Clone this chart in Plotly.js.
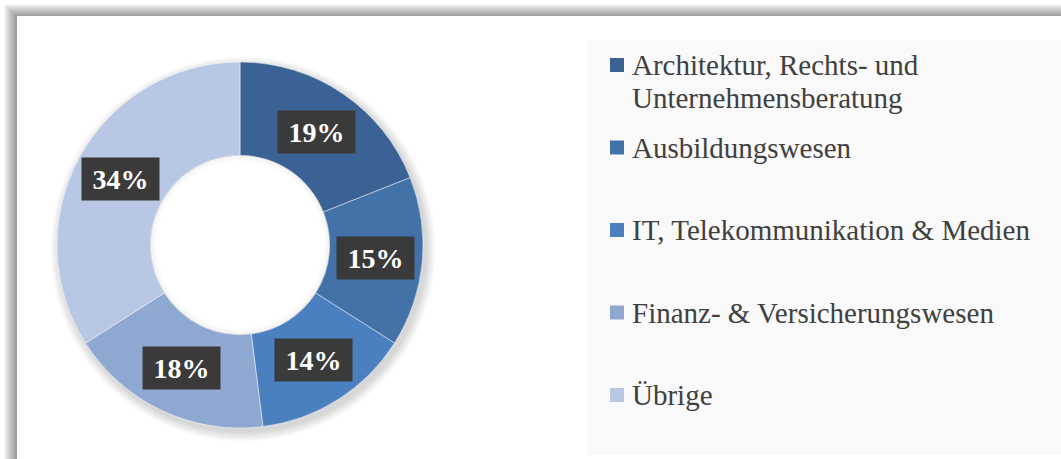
<!DOCTYPE html>
<html>
<head>
<meta charset="utf-8">
<script src="https://cdn.plot.ly/plotly-3.0.1.min.js"></script>
</head>
<body style="margin:0">
<div id="chart"></div>
<script>
// ---- data ----
const categories = [
  "Architektur, Rechts- und\nUnternehmensberatung",
  "Ausbildungswesen",
  "IT, Telekommunikation & Medien",
  "Finanz- & Versicherungswesen",
  "Übrige"
];
const shares = [19, 15, 14, 18, 34];
const sliceColors = ["#3b6295", "#4372a9", "#4b80c0", "#8fa8d2", "#b7c7e4"];

// ---- geometry (pixels) ----
const W = 1061, H = 459;
const cx = 240, cy = 245, rOuter = 183, hole = 0.49;
const px = x => x / W;
const py = y => 1 - y / H;
const FONT = 'Liberation Serif';

const shapes = [];
// frame shadow (left / top gradient)
for (let i = 4; i <= 16; i++) {
  shapes.push({type: 'rect', xref: 'paper', yref: 'paper', layer: 'below',
    x0: px(i), x1: px(W + 20), y0: py(i), y1: py(H + 20),
    line: {width: 0}, fillcolor: 'rgba(0,0,0,0.035)'});
}
shapes.push({type: 'rect', xref: 'paper', yref: 'paper', layer: 'below',
  x0: px(17), x1: px(W + 20), y0: py(16), y1: py(H + 20),
  line: {width: 0}, fillcolor: '#ffffff'});
// legend panel
shapes.push({type: 'rect', xref: 'paper', yref: 'paper', layer: 'below',
  x0: px(587), x1: px(W + 20), y0: py(40), y1: py(455),
  line: {width: 0}, fillcolor: '#f9f9f9'});
// soft shadow behind the donut
for (let k = 0; k < 8; k++) {
  const r = rOuter + 1 + k * 1.2;
  shapes.push({type: 'circle', xref: 'paper', yref: 'paper', layer: 'below',
    x0: px(cx + 3 - r), x1: px(cx + 3 + r), y0: py(cy + 4 + r), y1: py(cy + 4 - r),
    line: {width: 0}, fillcolor: 'rgba(0,0,0,0.018)'});
}
// keep the hole white
const rHole = rOuter * hole - 0.5;
shapes.push({type: 'circle', xref: 'paper', yref: 'paper', layer: 'above',
  x0: px(cx - rHole), x1: px(cx + rHole), y0: py(cy + rHole), y1: py(cy - rHole),
  line: {width: 0}, fillcolor: '#ffffff'});
// faint inner shadow at the hole's rim
for (let k = 0; k < 4; k++) {
  const r = rHole - k * 1.5;
  shapes.push({type: 'circle', xref: 'paper', yref: 'paper', layer: 'above',
    x0: px(cx - r), x1: px(cx + r), y0: py(cy + r), y1: py(cy - r),
    line: {width: 1.5, color: 'rgba(0,0,0,' + (0.05 - k * 0.012) + ')'}, fillcolor: 'rgba(0,0,0,0)'});
}

const annotations = [];
// data labels in dark boxes
const total = shares.reduce((a, b) => a + b, 0);
let cum = 0;
const rLabel = rOuter * 0.745;
shares.forEach((v, i) => {
  const mid = (cum + v / 2) / total * 2 * Math.PI;
  cum += v;
  const lx = cx + rLabel * Math.sin(mid);
  const ly = cy - rLabel * Math.cos(mid);
  annotations.push({
    xref: 'paper', yref: 'paper', x: px(lx), y: py(ly),
    xanchor: 'center', yanchor: 'middle', showarrow: false,
    text: '<b>' + Math.round(v / total * 100) + '%</b>',
    font: {family: FONT, size: 28, color: '#ffffff'},
    bgcolor: '#3a3a3a', width: 75, height: 40, borderpad: 1
  });
});

// legend (custom, in the panel)
const legTop = 65, legStep = 82.5, lineH = 33;
categories.forEach((lab, i) => {
  const yc = legTop + i * legStep;
  shapes.push({type: 'rect', xref: 'paper', yref: 'paper', layer: 'above',
    x0: px(610), x1: px(624), y0: py(yc - 7), y1: py(yc + 7),
    line: {width: 0}, fillcolor: sliceColors[i]});
  lab.split('\n').forEach((line, j) => {
    annotations.push({
      xref: 'paper', yref: 'paper', x: px(630), y: py(yc + j * lineH),
      xanchor: 'left', yanchor: 'middle', showarrow: false, text: line,
      font: {family: FONT, size: 29, color: '#404040'}
    });
  });
});

const trace = {
  type: 'pie',
  labels: categories.map(c => c.replace('\n', ' ')),
  values: shares,
  hole: hole,
  sort: false,
  direction: 'clockwise',
  rotation: 0,
  textinfo: 'none',
  showlegend: false,
  marker: {colors: sliceColors, line: {color: 'rgba(255,255,255,0.45)', width: 1}},
  domain: {x: [px(cx - rOuter), px(cx + rOuter)], y: [py(cy + rOuter), py(cy - rOuter)]}
};

const layout = {
  width: W, height: H,
  margin: {l: 0, r: 0, t: 0, b: 0},
  font: {family: FONT},
  paper_bgcolor: '#ffffff',
  plot_bgcolor: '#ffffff',
  showlegend: false,
  shapes: shapes,
  annotations: annotations
};

Plotly.newPlot('chart', [trace], layout, {displayModeBar: false, staticPlot: true});
</script>
</body>
</html>
